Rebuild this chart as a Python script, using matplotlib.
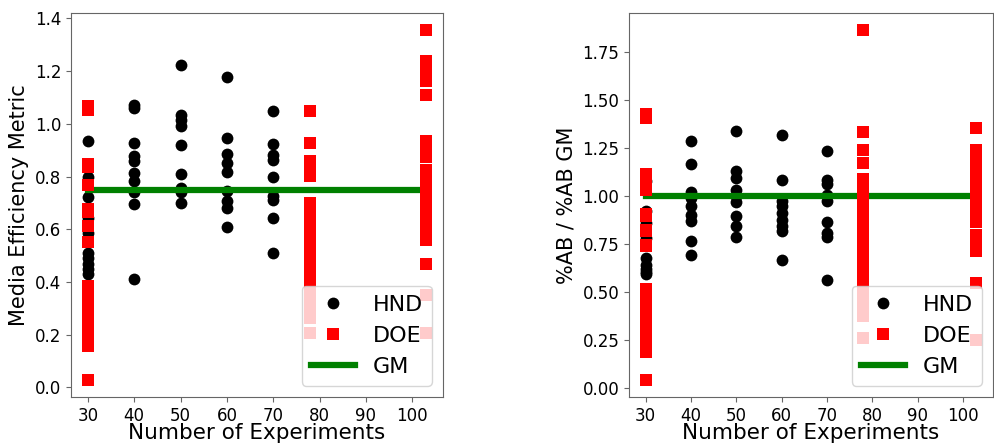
import matplotlib
matplotlib.use("Agg")
import matplotlib.pyplot as plt

# x positions (number of experiments)
EXP_HND = [30, 40, 50, 60, 70]
EXP_DOE = [30, 78, 103]
GM_X = [30, 103]

# media efficiency metric (left panel)
ME_HND = [
    [0.936, 0.80, 0.723, 0.643, 0.586, 0.51, 0.49, 0.47, 0.45, 0.43],
    [1.07, 1.06, 0.929, 0.876, 0.86, 0.813, 0.782, 0.74, 0.697, 0.412],
    [1.223, 1.034, 1.015, 0.992, 0.918, 0.811, 0.757, 0.74, 0.70],
    [1.179, 0.948, 0.886, 0.851, 0.816, 0.744, 0.706, 0.681, 0.608],
    [1.049, 0.924, 0.883, 0.864, 0.80, 0.725, 0.71, 0.643, 0.511],
]
ME_DOE = [
    [1.066, 1.051, 0.846, 0.837, 0.767, 0.677, 0.666, 0.612, 0.552,
     0.386, 0.35, 0.31, 0.27, 0.23, 0.195, 0.159, 0.03],
    [1.048, 0.929, 0.859, 0.83, 0.802, 0.701, 0.66, 0.62, 0.58, 0.54,
     0.50, 0.46, 0.42, 0.38, 0.34, 0.30, 0.264, 0.207],
    [1.354, 1.237, 1.20, 1.163, 1.111, 0.934, 0.905, 0.875, 0.824, 0.79,
     0.755, 0.72, 0.69, 0.655, 0.62, 0.59, 0.56, 0.468, 0.35, 0.206],
]
ME_GM = 0.75

# %AB relative to GM (right panel)
AB_HND = [
    [1.074, 0.92, 0.858, 0.78, 0.676, 0.64, 0.62, 0.60, 0.59],
    [1.282, 1.166, 1.017, 0.988, 0.944, 0.90, 0.866, 0.762, 0.693],
    [1.334, 1.126, 1.091, 1.027, 0.996, 0.965, 0.896, 0.84, 0.783],
    [1.317, 1.083, 0.97, 0.945, 0.91, 0.875, 0.844, 0.814, 0.663],
    [1.23, 1.083, 1.06, 1.005, 0.97, 0.861, 0.806, 0.785, 0.558],
]
AB_DOE = [
    [1.423, 1.402, 1.112, 1.095, 1.036, 1.029, 0.903, 0.894, 0.82, 0.816,
     0.741, 0.735, 0.513, 0.466, 0.419, 0.372, 0.325, 0.278, 0.231, 0.184, 0.042],
    [1.86, 1.333, 1.24, 1.172, 1.088, 1.04, 0.99, 0.94, 0.89, 0.84, 0.79,
     0.74, 0.69, 0.64, 0.59, 0.54, 0.49, 0.44, 0.40, 0.371, 0.259],
    [1.351, 1.237, 1.19, 1.14, 1.09, 1.04, 0.99, 0.94, 0.90, 0.865,
     0.793, 0.75, 0.71, 0.546, 0.247],
]
AB_GM = 1.0


def flat(xs, groups):
    px, py = [], []
    for x, g in zip(xs, groups):
        px += [x] * len(g)
        py += g
    return px, py


def panel(ax, hnd, doe, gm, ylabel, yticks, fmt):
    hx, hy = flat(EXP_HND, hnd)
    dx, dy = flat(EXP_DOE, doe)
    ax.plot(hx, hy, "o", color="black", ms=8.5, mew=0, ls="none", label="HND", zorder=2)
    ax.plot(dx, dy, "s", color="red", ms=9, mew=0, ls="none", label="DOE", zorder=3)
    ax.plot(GM_X, [gm, gm], color="green", lw=4.5, label="GM", zorder=2.5)
    ax.set_xticks(range(30, 101, 10))
    ax.set_yticks(yticks)
    ax.set_yticklabels([fmt.format(v) for v in yticks])
    ax.tick_params(labelsize=12, color="0.4")
    for s in ax.spines.values():
        s.set_color("0.4")
    ax.set_xlabel("Number of Experiments", fontsize=15.5, labelpad=-1)
    ax.set_ylabel(ylabel, fontsize=15)
    ax.legend(loc="lower right", fontsize=16)


fig = plt.figure(figsize=(9.94, 4.44), dpi=100)
ax1 = fig.add_axes([71 / 994, 47 / 444, 372 / 994, 384 / 444])
ax2 = fig.add_axes([629 / 994, 47 / 444, 364 / 994, 384 / 444])

panel(ax1, ME_HND, ME_DOE, ME_GM, "Media Efficiency Metric",
      [0.0, 0.2, 0.4, 0.6, 0.8, 1.0, 1.2, 1.4], "{:.1f}")
panel(ax2, AB_HND, AB_DOE, AB_GM, "%AB / %AB GM",
      [0.0, 0.25, 0.5, 0.75, 1.0, 1.25, 1.5, 1.75], "{:.2f}")

fig.savefig("out.png", dpi=100)
